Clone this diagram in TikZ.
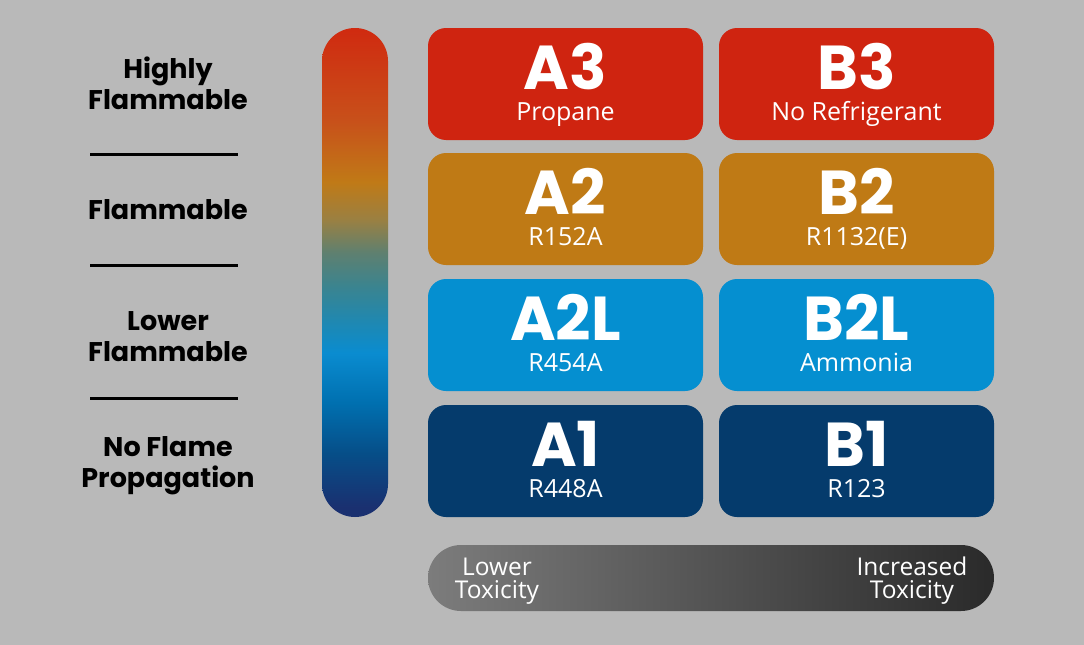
\documentclass[tikz,border=0pt]{standalone}
\usepackage{fontspec}
\setmainfont{Open Sans}
\newfontfamily\popfont{Poppins}
\usetikzlibrary{positioning}
\definecolor{bg}{HTML}{B9B9B9}
\definecolor{red3}{HTML}{CF2410}
\definecolor{amber2}{HTML}{BF7A15}
\definecolor{blue2l}{HTML}{058FD0}
\definecolor{navy1}{HTML}{053B6C}
\definecolor{ftop}{HTML}{D02A10}
\definecolor{fred}{HTML}{C8501A}
\definecolor{forange}{HTML}{C07A17}
\definecolor{folive}{HTML}{9A8042}
\definecolor{fgrey}{HTML}{5E8070}
\definecolor{fteal}{HTML}{3A8490}
\definecolor{fsea}{HTML}{2088B0}
\definecolor{fblue}{HTML}{0A8CD0}
\definecolor{fmid}{HTML}{0070B0}
\definecolor{fdeep}{HTML}{064E88}
\definecolor{fbot}{HTML}{1A3070}
\definecolor{toxlo}{HTML}{7C7C7C}
\definecolor{toxhi}{HTML}{2A2A2A}
% flame scale, bottom (25bp) to top (75bp)
\pgfdeclareverticalshading{flamebar}{100bp}{color(0bp)=(fbot); color(26bp)=(fbot);
  color(31.5bp)=(fdeep); color(36.7bp)=(fmid); color(41.8bp)=(fblue); color(45.1bp)=(fsea);
  color(48.5bp)=(fteal); color(52bp)=(fgrey); color(55.4bp)=(folive); color(59.2bp)=(forange);
  color(65.6bp)=(fred); color(75bp)=(ftop); color(100bp)=(ftop)}
\begin{document}
\begin{tikzpicture}[x=1pt,y=-1pt,
    cell/.style={rounded corners=18pt, minimum width=275pt, minimum height=112pt, inner sep=0pt},
    code/.style={font=\popfont\bfseries\fontsize{62}{62}\selectfont, text=white, anchor=base, inner sep=0pt, text height=44pt, text depth=0pt},
    gas/.style={font=\fontsize{25}{25}\selectfont, text=white, anchor=base, inner sep=0pt, text height=18pt, text depth=4pt},
    level/.style={font=\popfont\bfseries\fontsize{27}{27}\selectfont, anchor=base, inner sep=0pt, text height=20pt, text depth=5pt},
    tox/.style={font=\fontsize{24.5}{24.5}\selectfont, text=white, anchor=base, inner sep=0pt, text height=17pt, text depth=4pt},
    sep/.style={line width=3pt}]
    \fill[bg] (0,0) rectangle (1084,645);
    \useasboundingbox (0,0) rectangle (1084,645);
    % flammability labels
    \node[level] (hi1) at (168,78) {Highly};
    \node[level] (hi2) at (168,109) {Flammable};
    \node[level] (fl) at (168,219) {Flammable};
    \node[level] (lo1) at (168,330) {Lower};
    \node[level] (lo2) at (168,361) {Flammable};
    \node[level] (nf1) at (168,456) {No Flame};
    \node[level] (nf2) at (168,487) {Propagation};
    \draw[sep]
    (90,154) -- (238,154)
    (90,265) -- (238,265)
    (90,398) -- (238,398)
    ;
    % colour scale
    \node[shade, shading=flamebar, rounded corners=33pt, minimum width=66pt, minimum height=489pt, inner sep=0pt] (flame) at (355,272.5) {};
    % classes
    \foreach \lvl/\top/\tone/\ga/\gb in {3/28/red3/Propane/No Refrigerant, 2/153/amber2/R152A/R1132(E), 2L/279/blue2l/R454A/Ammonia, 1/405/navy1/R448A/R123}{
        \node[cell, fill=\tone] (a\lvl) at (565.5,\top+56) {};
        \node[cell, fill=\tone] (b\lvl) at (856.5,\top+56) {};
        \node[code] (a\lvl code) at (565.5,\top+61.5) {A\lvl};
        \node[code] (b\lvl code) at (856.5,\top+61.5) {B\lvl};
        \node[gas] (a\lvl gas) at (565.5,\top+92.5) {\ga};
        \node[gas] (b\lvl gas) at (856.5,\top+92.5) {\gb};
    }
    % toxicity scale
    \node[shade, left color=toxlo, right color=toxhi, rounded corners=33pt, minimum width=566pt, minimum height=66pt, inner sep=0pt] (toxbar) at (711,578) {};
    \node[tox] (lo) at (497,575) {Lower};
    \node[tox] (lotox) at (497,598) {Toxicity};
    \node[tox] (hi) at (912,575) {Increased};
    \node[tox] (hitox) at (912,598) {Toxicity};
\end{tikzpicture}
\end{document}
